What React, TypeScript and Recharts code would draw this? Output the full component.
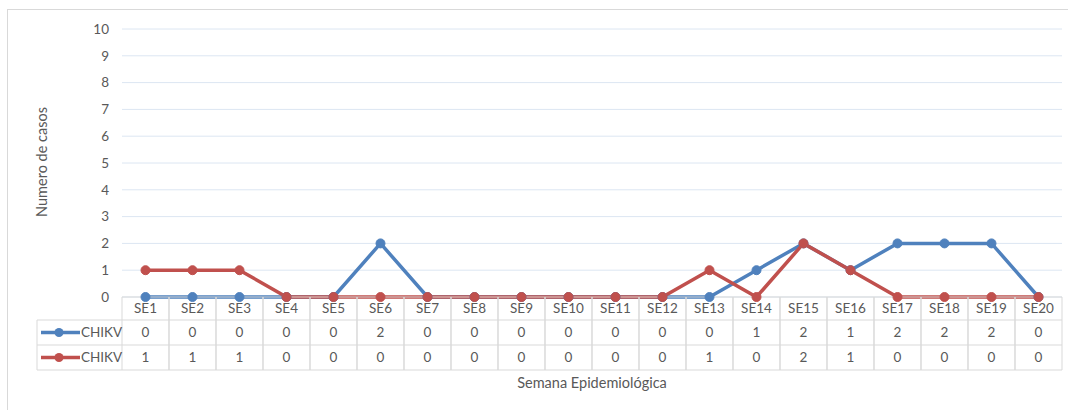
import { CartesianGrid, Line, LineChart, XAxis, YAxis } from "recharts";

const weeks = [
  "SE1", "SE2", "SE3", "SE4", "SE5", "SE6", "SE7", "SE8", "SE9", "SE10",
  "SE11", "SE12", "SE13", "SE14", "SE15", "SE16", "SE17", "SE18", "SE19", "SE20",
];
const chikvBlue = [0, 0, 0, 0, 0, 2, 0, 0, 0, 0, 0, 0, 0, 1, 2, 1, 2, 2, 2, 0];
const chikvRed = [1, 1, 1, 0, 0, 0, 0, 0, 0, 0, 0, 0, 1, 0, 2, 1, 0, 0, 0, 0];
const yTicks = [0, 1, 2, 3, 4, 5, 6, 7, 8, 9, 10];

const series = [
  { key: "blue", name: "CHIKV", color: "#4F81BD", values: chikvBlue },
  { key: "red", name: "CHIKV", color: "#C0504D", values: chikvRed },
];

const data = weeks.map((w, i) => ({ name: w, blue: chikvBlue[i], red: chikvRed[i] }));

const FONT = "Lato, 'Open Sans', sans-serif";
const TEXT = "#595959";
const BORDER = "#D9D9D9";

// column width of the data table = one category band
const COL = 47;
const ROWS = [23, 25, 25];

const TableTick = (props: any) => {
  const { x, y, payload } = props;
  const i = payload.index;
  const half = COL / 2;
  const y1 = y + ROWS[0];
  const y2 = y1 + ROWS[1];
  const y3 = y2 + ROWS[2];
  return (
    <g>
      <line x1={x - half} x2={x - half} y1={y} y2={y3} stroke={BORDER} />
      <line x1={x + half} x2={x + half} y1={y} y2={y3} stroke={BORDER} />
      <line x1={x - half} x2={x + half} y1={y1} y2={y1} stroke={BORDER} />
      <line x1={x - half} x2={x + half} y1={y2} y2={y2} stroke={BORDER} />
      <line x1={x - half} x2={x + half} y1={y3} y2={y3} stroke={BORDER} />
      <text x={x} y={y + 16} textAnchor="middle" fill={TEXT} fontSize={13.5} fontFamily={FONT}>
        {payload.value}
      </text>
      {series.map((s, r) => (
        <text
          key={s.key}
          x={x}
          y={(r === 0 ? y1 : y2) + 17}
          textAnchor="middle"
          fill={TEXT}
          fontSize={13.5}
          fontFamily={FONT}
        >
          {s.values[i]}
        </text>
      ))}
      {i === 0 && (
        <g>
          <line x1={x - half - 85} x2={x - half} y1={y1} y2={y1} stroke={BORDER} />
          <line x1={x - half - 85} x2={x - half} y1={y2} y2={y2} stroke={BORDER} />
          <line x1={x - half - 85} x2={x - half} y1={y3} y2={y3} stroke={BORDER} />
          <line x1={x - half - 85} x2={x - half - 85} y1={y1} y2={y3} stroke={BORDER} />
          {series.map((s, r) => {
            const cy = (r === 0 ? y1 : y2) + 12.5;
            const lx = x - half - 81;
            return (
              <g key={s.key}>
                <line x1={lx} x2={lx + 39} y1={cy} y2={cy} stroke={s.color} strokeWidth={3.5} />
                <circle cx={lx + 18} cy={cy} r={4.5} fill={s.color} />
                <text x={lx + 40} y={cy + 4.5} fill={TEXT} fontSize={13.5} fontFamily={FONT}>
                  {s.name}
                </text>
              </g>
            );
          })}
        </g>
      )}
    </g>
  );
};

export default function App() {
  return (
    <div style={{ position: "absolute", left: 0, top: 0, width: 1068, height: 410, background: "#fff", overflow: "hidden" }}>
      <div
        style={{
          position: "absolute",
          left: 7,
          top: 9,
          width: 1080,
          height: 420,
          border: `1px solid ${BORDER}`,
        }}
      />
      <LineChart
        width={1068}
        height={410}
        data={data}
        margin={{ top: 29, right: 6, left: 62, bottom: 0 }}
        style={{ position: "absolute", left: 0, top: 0 }}
      >
        <CartesianGrid vertical={false} stroke="#DCE6F2" />
        <XAxis
          dataKey="name"
          interval={0}
          height={113}
          axisLine={{ stroke: BORDER }}
          tickLine={false}
          tickSize={0}
          tickMargin={0}
          padding={{ left: COL / 2, right: COL / 2 }}
          tick={<TableTick />}
          label={{
            content: (p: any) => {
              const vb = p.viewBox;
              return (
                <text
                  x={vb.x + vb.width / 2}
                  y={vb.y + 91}
                  textAnchor="middle"
                  fill={TEXT}
                  fontSize={14.5}
                  fontFamily={FONT}
                >
                  Semana Epidemiológica
                </text>
              );
            },
          }}
        />
        <YAxis
          width={60}
          domain={[0, 10]}
          ticks={yTicks}
          interval={0}
          axisLine={false}
          tickLine={false}
          tickSize={0}
          tickMargin={13}
          tick={{ fill: TEXT, fontSize: 13.5, fontFamily: FONT }}
          label={{
            content: () => (
              <text
                x={0}
                y={0}
                transform="translate(47,162) rotate(-90)"
                textAnchor="middle"
                fill={TEXT}
                fontSize={14.5}
                fontFamily={FONT}
              >
                Numero de casos
              </text>
            ),
          }}
        />
        {series.map((s) => (
          <Line
            key={s.key}
            dataKey={s.key}
            name={s.name}
            stroke={s.color}
            strokeWidth={3.5}
            dot={{ r: 4.5, fill: s.color, stroke: s.color, strokeWidth: 1 }}
            activeDot={false}
            isAnimationActive={false}
          />
        ))}
      </LineChart>
    </div>
  );
}
